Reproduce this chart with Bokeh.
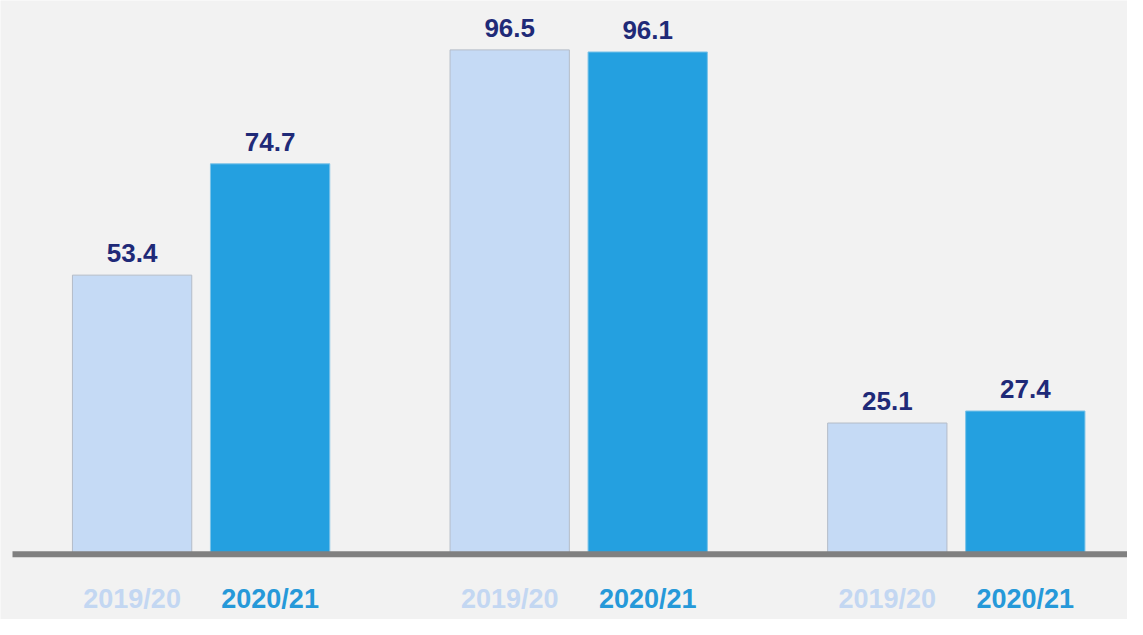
from bokeh.plotting import figure
from bokeh.models import ColumnDataSource, Range1d
from bokeh.core.properties import value
from bokeh.embed import file_html
from bokeh.resources import INLINE

# ---- data ----
groups = [0, 1, 2]
years = ["2019/20", "2020/21"]
values_2019_20 = [53.4, 96.5, 25.1]
values_2020_21 = [74.7, 96.1, 27.4]

# ---- style ----
BG = "#f2f2f2"
LIGHT = "#c5daf5"
DARK = "#24a0e0"
LABEL_LIGHT = "#c3d7f2"
LABEL_DARK = "#2699d9"
NAVY = "#1f2a78"
FONT = "Liberation Sans"

W, H = 1127, 619
GS = 377.6          # px per group
YS = 5.226          # px per unit
x0 = -200.6 / GS
x1 = x0 + W / GS
y0 = -65.3 / YS
y1 = y0 + H / YS

p = figure(width=W, height=H, output_backend="svg", toolbar_location=None,
           x_range=Range1d(x0, x1), y_range=Range1d(y0, y1),
           x_axis_location=None, y_axis_location=None,
           min_border=0, min_border_left=0, min_border_right=0,
           min_border_top=0, min_border_bottom=0)
p.background_fill_color = BG
p.border_fill_color = BG
p.outline_line_color = None
p.xgrid.visible = False
p.ygrid.visible = False

off = 69 / GS
bw = 119.3 / GS

src_a = ColumnDataSource(dict(x=[g - off for g in groups], top=values_2019_20,
                              lab=[f"{v:.1f}" for v in values_2019_20]))
src_b = ColumnDataSource(dict(x=[g + off for g in groups], top=values_2020_21,
                              lab=[f"{v:.1f}" for v in values_2020_21]))

p.vbar(x="x", top="top", bottom=0, width=bw, source=src_a,
       fill_color=LIGHT, line_color="#b4bcc8", line_width=1)
p.vbar(x="x", top="top", bottom=0, width=bw, source=src_b,
       fill_color=DARK, line_color="#7cc3e8", line_width=1)

# baseline
p.segment(x0=[x0 + 12 / GS], y0=[0], x1=[x1], y1=[0],
          line_color="#808080", line_width=6)

for src in (src_a, src_b):
    p.text(x="x", y="top", text="lab", source=src, text_align="center",
           text_baseline="alphabetic", y_offset=-22,
           text_font=value(FONT), text_font_style="bold",
           text_font_size="26px", text_color=NAVY)

# category labels
ylab = y1 - 598 / YS
cat_a = ColumnDataSource(dict(x=[g - off for g in groups], y=[ylab] * 3, t=[years[0]] * 3))
cat_b = ColumnDataSource(dict(x=[g + off for g in groups], y=[ylab] * 3, t=[years[1]] * 3))
p.text(x="x", y="y", text="t", source=cat_a, text_align="center",
       text_baseline="alphabetic",
       text_font=value(FONT), text_font_style="bold",
       text_font_size="27px", text_color=LABEL_LIGHT)
p.text(x="x", y="y", text="t", source=cat_b, text_align="center",
       text_baseline="alphabetic",
       text_font=value(FONT), text_font_style="bold",
       text_font_size="27px", text_color=LABEL_DARK)

open("out.html", "w").write(file_html(p, INLINE))
